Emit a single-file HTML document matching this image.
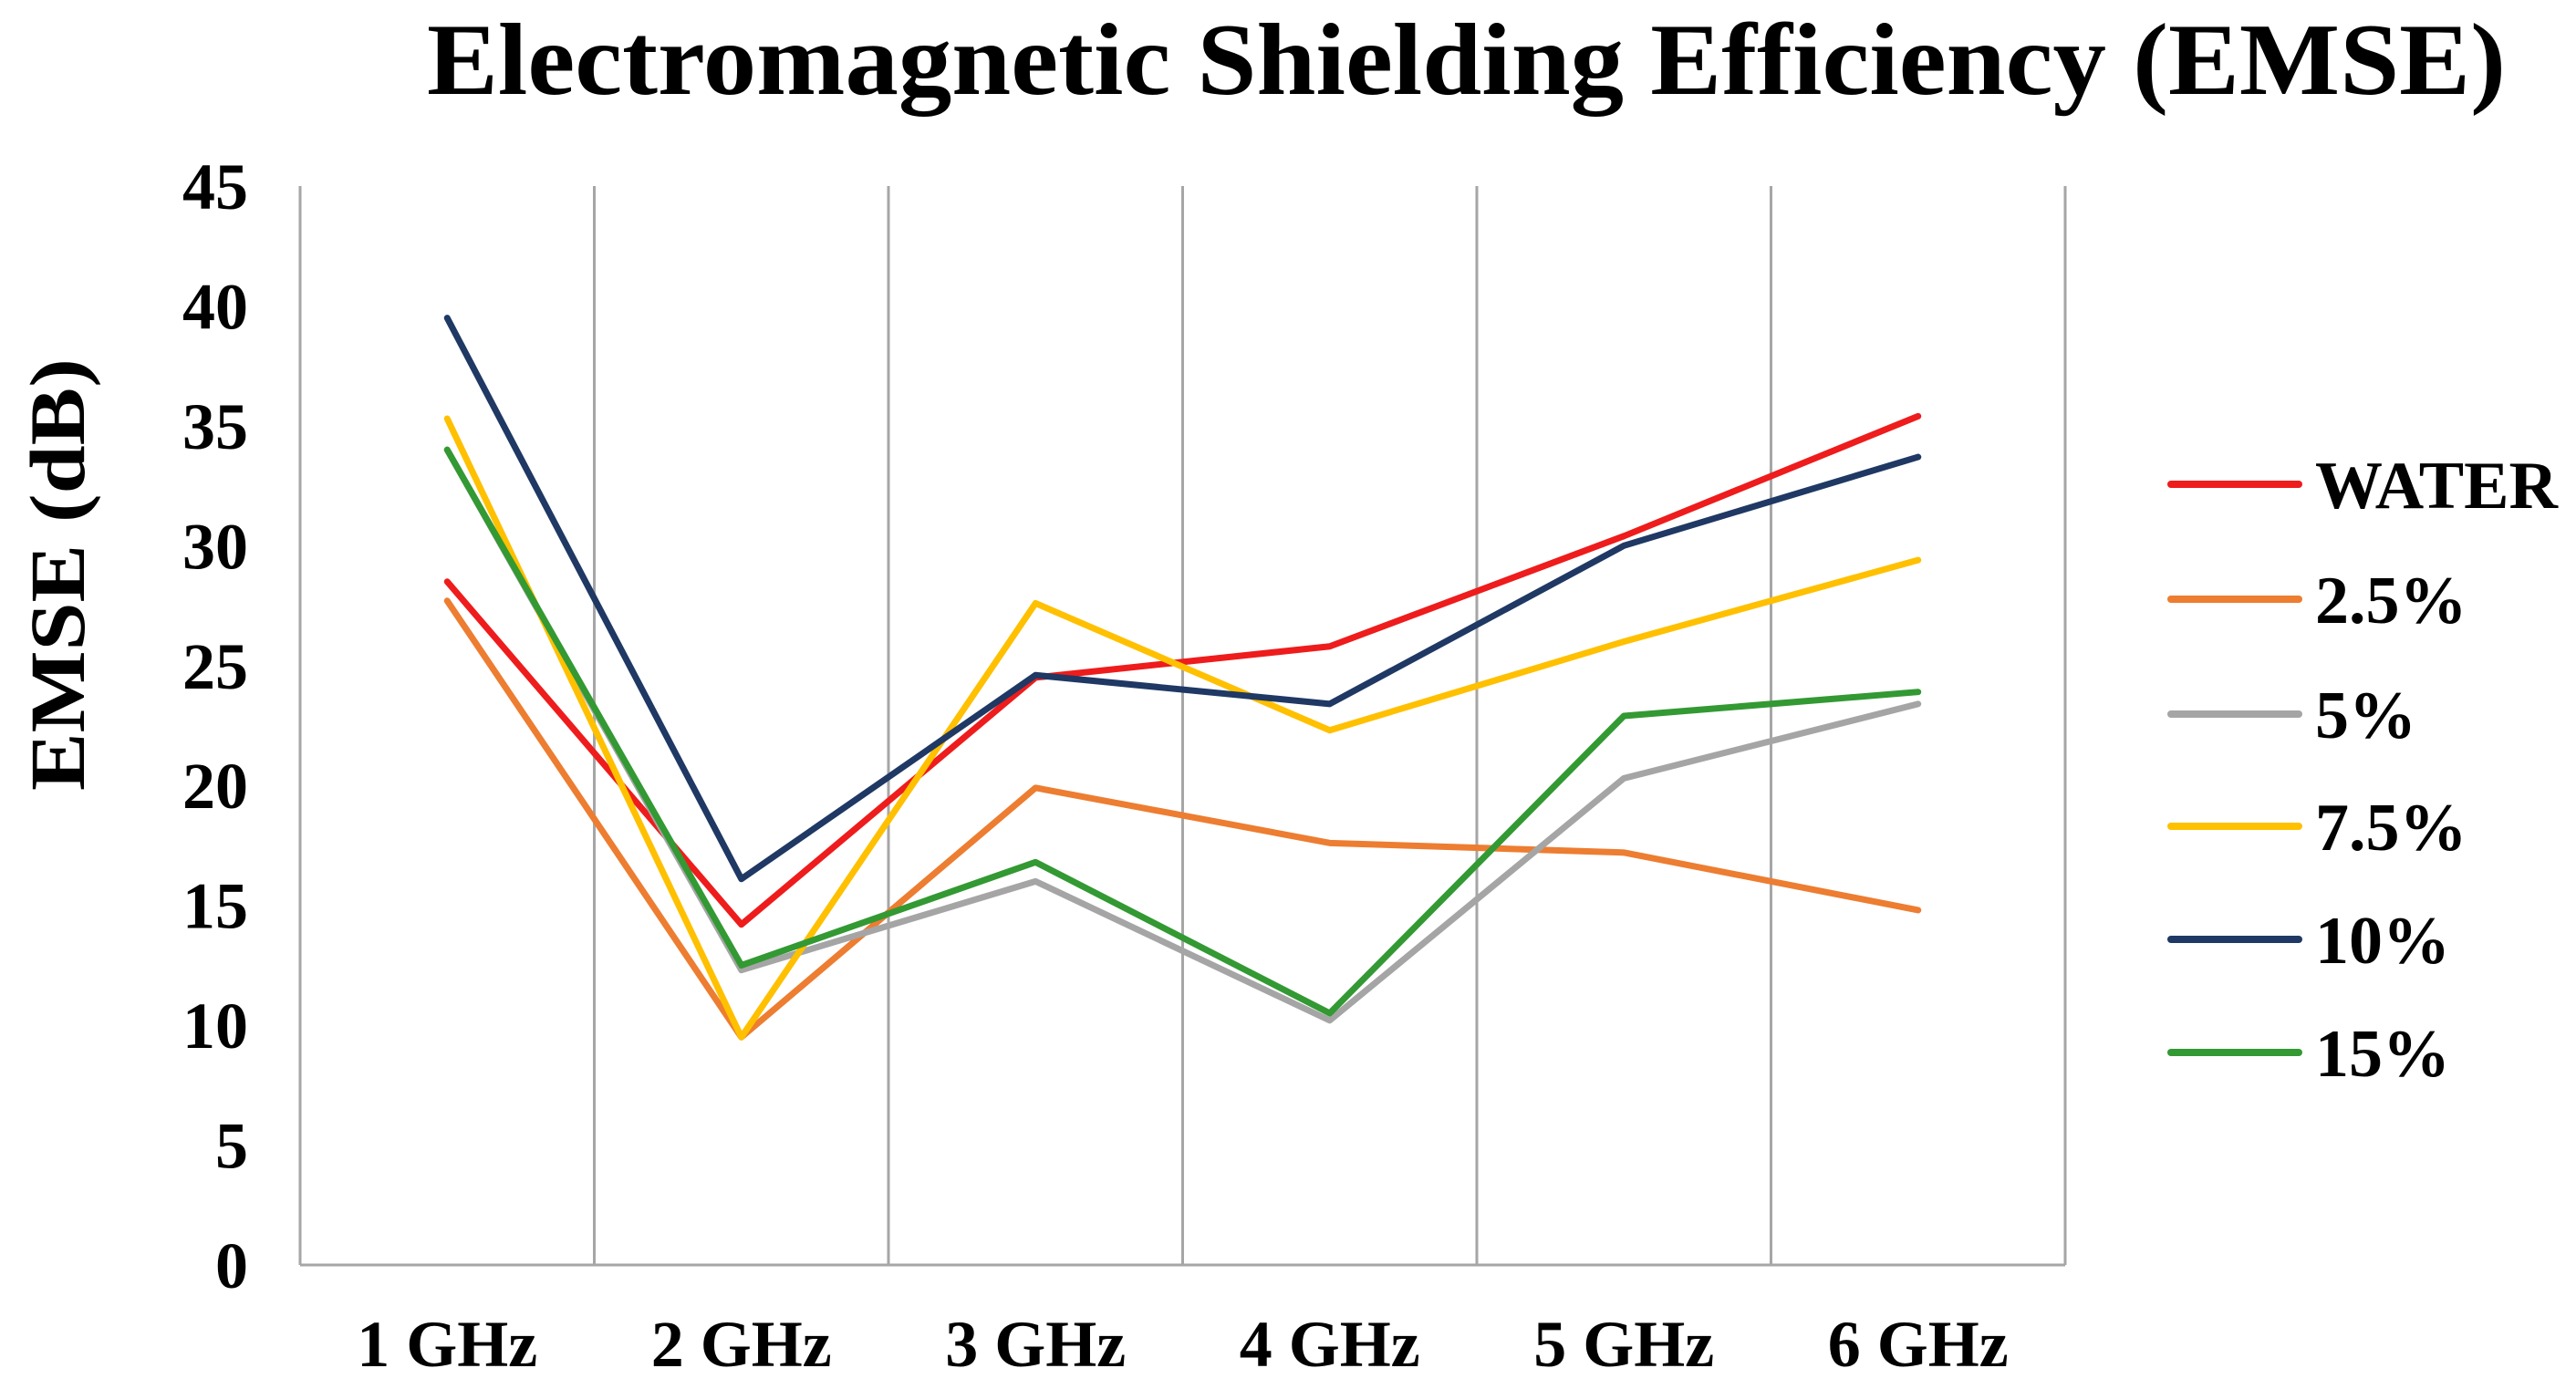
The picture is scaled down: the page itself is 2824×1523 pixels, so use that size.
<!DOCTYPE html>
<html><head><meta charset="utf-8"><style>
html,body{margin:0;padding:0;background:#fff;}
svg{display:block;font-family:"Liberation Serif",serif;font-weight:bold;}
</style></head><body>
<svg id="chart" width="2824" height="1523" viewBox="0 0 2824 1523" xmlns="http://www.w3.org/2000/svg">
<text x="468" y="103" font-size="112" textLength="2279" lengthAdjust="spacingAndGlyphs">Electromagnetic Shielding Efficiency (EMSE)</text>
<text transform="translate(92,630) rotate(-90)" text-anchor="middle" font-size="86" textLength="474" lengthAdjust="spacingAndGlyphs">EMSE (dB)</text>
<g id="grid"></g><g id="yticks"></g><g id="xticks"></g><g id="series"></g><g id="legend"></g>
</svg>
<script>
const categories = ["1 GHz","2 GHz","3 GHz","4 GHz","5 GHz","6 GHz"];
const yTicks = [0,5,10,15,20,25,30,35,40,45];
const seriesNames = ["WATER","2.5%","5%","7.5%","10%","15%"];
const seriesColors = ["#ee1c1c","#ed7d31","#a5a5a5","#ffc000","#1f3864","#339933"];
const water = [28.5,14.2,24.5,25.8,30.4,35.4];
const pct2_5 = [27.7,9.5,19.9,17.6,17.2,14.8];
const pct5 = [34.0,12.3,16.0,10.2,20.3,23.4];
const pct7_5 = [35.3,9.5,27.6,22.3,26.0,29.4];
const pct10 = [39.5,16.1,24.6,23.4,30.0,33.7];
const pct15 = [34.0,12.5,16.8,10.5,22.9,23.9];
const seriesValues = [water,pct2_5,pct5,pct7_5,pct10,pct15];

const NS="http://www.w3.org/2000/svg";
const L=329,R=2264,T=204,B=1387,YMAX=45;
const bw=(R-L)/categories.length;
const xs=i=>L+bw*(i+0.5);
const ys=v=>B-(v/YMAX)*(B-T);
function mk(tag,parent,attrs){const e=document.createElementNS(NS,tag);for(const k in attrs)e.setAttribute(k,attrs[k]);parent.appendChild(e);return e;}
const grid=document.getElementById('grid');
for(let i=0;i<=categories.length;i++){
  const x=L+bw*i;
  const g=mk('line',grid,{x1:x,x2:x,y1:T,y2:B,stroke:'#a6a6a6','stroke-width':3});
  
  
}
const ax=mk('line',grid,{x1:L,x2:R,y1:B,y2:B,stroke:'#a6a6a6','stroke-width':3});


const yt=document.getElementById('yticks');
yTicks.forEach(v=>{
  const t=mk('text',yt,{x:272,y:ys(v)+25,'text-anchor':'end','font-size':72});
  t.textContent=v;
  
  
});
const xt=document.getElementById('xticks');
categories.forEach((c,i)=>{
  const t=mk('text',xt,{x:xs(i),y:1498,'text-anchor':'middle','font-size':72});
  t.textContent=c;
  
  
});
const sg=document.getElementById('series');
seriesValues.forEach((vals,si)=>{
  const pts=vals.map((v,i)=>xs(i)+','+ys(v)).join(' ');
  const p=mk('polyline',sg,{points:pts,fill:'none',stroke:seriesColors[si],'stroke-width':7,'stroke-linejoin':'round','stroke-linecap':'round'});
  
  
});
const lg=document.getElementById('legend');
const legY=[531,657,783,906,1030,1154];
seriesNames.forEach((n,i)=>{
  const g=mk('g',lg,{});
  
  
  mk('line',g,{x1:2380,x2:2520,y1:legY[i],y2:legY[i],stroke:seriesColors[i],'stroke-width':8,'stroke-linecap':'round'});
  const t=mk('text',g,{x:2538,y:legY[i]+26,'font-size':74});
  t.textContent=n;
});
</script>
</body></html>
